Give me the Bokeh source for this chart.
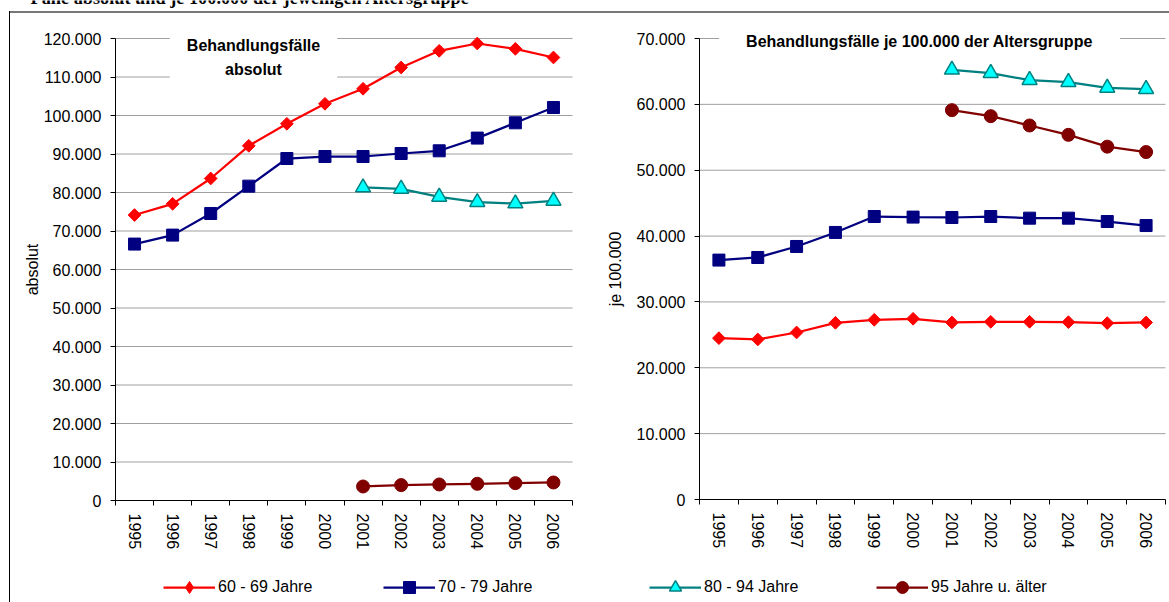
from bokeh.plotting import figure
from bokeh.models import (Range1d, LinearAxis, FixedTicker, CustomJSTickFormatter,
                          Label, Legend, LegendItem)
from bokeh.layouts import row
from bokeh.embed import file_html
from bokeh.resources import INLINE

# ---------------- data ----------------
years = ["1995", "1996", "1997", "1998", "1999", "2000",
         "2001", "2002", "2003", "2004", "2005", "2006"]
years_late = ["2001", "2002", "2003", "2004", "2005", "2006"]

# Behandlungsfälle absolut
abs_60_69 = [74150, 77060, 83640, 92130, 97840, 103040, 106940, 112470, 116800, 118700, 117320, 115070]
abs_70_79 = [66600, 68930, 74550, 81650, 88830, 89350, 89350, 90130, 90830, 94130, 98100, 102080]
abs_80_94 = [81300, 80960, 78880, 77490, 77140, 77840]
abs_95_plus = [3640, 4000, 4160, 4340, 4510, 4680]

# Behandlungsfälle je 100.000 der Altersgruppe
rate_60_69 = [24500, 24300, 25360, 26830, 27290, 27440, 26880, 26980, 26980, 26930, 26780, 26880]
rate_70_79 = [36350, 36750, 38420, 40550, 42970, 42880, 42820, 42970, 42720, 42720, 42210, 41600]
rate_80_94 = [65250, 64740, 63680, 63380, 62510, 62310]
rate_95_plus = [59120, 58210, 56790, 55370, 53580, 52760]

ticks_abs = [0, 10000, 20000, 30000, 40000, 50000, 60000, 70000, 80000, 90000, 100000, 110000, 120000]
ticks_rate = [0, 10000, 20000, 30000, 40000, 50000, 60000, 70000]

series_labels = ["60 - 69 Jahre", "70 - 79 Jahre", "80 - 94 Jahre", "95 Jahre u. älter"]
title_main = "Fälle absolut und je 100.000 der jeweiligen Altersgruppe"
title_left = "Behandlungsfälle\nabsolut"
title_right = "Behandlungsfälle je 100.000 der Altersgruppe"

# category slots on the x axis (one unit per year, centred in its slot)
x_all = [years.index(y) + 0.5 for y in years]
x_late = [years.index(y) + 0.5 for y in years_late]
slot_edges = list(range(len(years) + 1))

FONT = "Liberation Sans"
RED, NAVY, TEAL, CYAN, MAROON = "#FF0000", "#000080", "#008080", "#00FFFF", "#800000"
GRID = "#a0a0a0"
H = 602

fmt = CustomJSTickFormatter(code=r"""
return tick == 0 ? '0' : Math.round(tick).toString().replace(/\B(?=(\d{3})+(?!\d))/g, '.');
""")


def lin(p_lo, v_lo, p_hi, v_hi, p):
    return v_lo + (p - p_lo) * (v_hi - v_lo) / (p_hi - p_lo)


def make_fig(width, ymax, yticks, ax_left, ax_right, ax_top, ax_bottom, ylabel, lab_standoff):
    n = len(years)
    xr = Range1d(lin(ax_left, 0, ax_right, n, 0), lin(ax_left, 0, ax_right, n, width))
    yr = Range1d(lin(ax_bottom, 0, ax_top, ymax, H), lin(ax_bottom, 0, ax_top, ymax, 0))
    p = figure(width=width, height=H, x_range=xr, y_range=yr,
               output_backend="svg", toolbar_location=None, x_axis_type=None, y_axis_type=None,
               min_border_left=0, min_border_right=0, min_border_top=0, min_border_bottom=0)
    p.outline_line_color = None
    p.background_fill_color = None
    p.border_fill_color = None
    p.grid.visible = False

    # horizontal gridlines across the category area
    p.segment(x0=0, x1=n, y0=yticks[1:], y1=yticks[1:], line_color=GRID, line_width=1)

    # x axis line with tick marks between the categories
    ta = LinearAxis(ticker=FixedTicker(ticks=slot_edges, minor_ticks=[]), fixed_location=0,
                    bounds=(0, n), formatter=CustomJSTickFormatter(code="return '';"),
                    major_label_text_font_size="0px", major_tick_out=5, major_tick_in=0,
                    major_label_standoff=0, minor_tick_line_color=None,
                    axis_line_color="black", major_tick_line_color="black")
    # category labels centred in each slot
    la = LinearAxis(ticker=FixedTicker(ticks=x_all, minor_ticks=[]), fixed_location=0,
                    bounds=(0, n),
                    major_label_overrides={x: y for x, y in zip(x_all, years)},
                    axis_line_color=None, major_tick_line_color=None, minor_tick_line_color=None,
                    major_tick_out=0, major_tick_in=0,
                    major_label_orientation="vertical", major_label_standoff=13,
                    major_label_text_font=FONT, major_label_text_font_size="16px",
                    major_label_text_color="black")
    p.add_layout(ta, "below")
    p.add_layout(la, "below")

    ya = LinearAxis(ticker=FixedTicker(ticks=yticks, minor_ticks=[]), fixed_location=0,
                    bounds=(0, ymax), formatter=fmt,
                    major_tick_out=5, major_tick_in=0, minor_tick_line_color=None,
                    axis_line_color="black", major_tick_line_color="black",
                    major_label_standoff=9, major_label_text_font=FONT,
                    major_label_text_font_size="16px", major_label_text_color="black",
                    axis_label=ylabel, axis_label_text_font=FONT,
                    axis_label_text_font_size="16px", axis_label_text_font_style="normal",
                    axis_label_text_color="black", axis_label_standoff=lab_standoff)
    p.add_layout(ya, "left")
    return p


def draw_series(p, x, y, color, marker, size, fill, angle=0.0, mlw=1.0):
    ln = p.line(x, y, line_color=color, line_width=2.25)
    sc = p.scatter(x, y, marker=marker, size=size, angle=angle, fill_color=fill,
                   line_color=color, line_width=mlw)
    return [ln, sc]


def add_legend(p, items, x, label_width):
    lg = Legend(items=items, location=(x, 0),
                orientation="horizontal", padding=0, margin=0, spacing=0, label_standoff=3,
                glyph_width=52, glyph_height=30, label_height=30, label_width=label_width,
                border_line_color=None, background_fill_alpha=0,
                label_text_font=FONT, label_text_font_size="16px", label_text_color="black")
    p.add_layout(lg, "center")


# ---------------- left chart ----------------
p1 = make_fig(600, 120000, ticks_abs, 115, 572, 38, 500, "absolut", 0)
r1 = draw_series(p1, x_all, abs_60_69, RED, "square", 9, RED, angle=0.785398)
r2 = draw_series(p1, x_all, abs_70_79, NAVY, "square", 12, NAVY)
draw_series(p1, x_late, abs_80_94, TEAL, "triangle", 15, CYAN, mlw=1.5)
draw_series(p1, x_late, abs_95_plus, MAROON, "circle", 13, MAROON)
# legend key for the diamond series (legend keys are drawn unrotated, so use a
# zero-size diamond renderer on the same points whose key the legend sizes itself)
diamond_key = p1.scatter(x_all, abs_60_69, marker="diamond", size=0, fill_color=RED,
                         line_color=RED, line_width=1)

p1.add_layout(Label(x=253, y=H - 32, x_units="screen", y_units="screen", text=title_left,
                    text_align="center", text_baseline="top", text_font=FONT,
                    text_font_size="16px", text_font_style="bold", text_color="black",
                    text_line_height=1.45, background_fill_color="white", padding=(17, 4)))
p1.add_layout(Label(x=30, y=H + 2.2, x_units="screen", y_units="screen", text=title_main,
                    text_align="left", text_baseline="alphabetic", text_font="Liberation Serif",
                    text_font_size="18.3px", text_font_style="bold", text_color="black"))

# ---------------- right chart ----------------
p2 = make_fig(569, 70000, ticks_rate, 99, 565, 38, 499, "je 100.000", 10)
draw_series(p2, x_all, rate_60_69, RED, "square", 9, RED, angle=0.785398)
draw_series(p2, x_all, rate_70_79, NAVY, "square", 12, NAVY)
r5 = draw_series(p2, x_late, rate_80_94, TEAL, "triangle", 15, CYAN, mlw=1.5)
r6 = draw_series(p2, x_late, rate_95_plus, MAROON, "circle", 13, MAROON)

p2.add_layout(Label(x=319, y=H - 40.5, x_units="screen", y_units="screen", text=title_right,
                    text_align="center", text_baseline="middle", text_font=FONT,
                    text_font_size="16px", text_font_style="bold", text_color="black",
                    background_fill_color="white", padding=(27, 7)))

# ---------------- legends ----------------
add_legend(p1, [LegendItem(label=series_labels[0], renderers=[r1[0], diamond_key]),
                LegendItem(label=series_labels[1], renderers=r2)], 163, 165)
add_legend(p2, [LegendItem(label=series_labels[2], renderers=r5),
                LegendItem(label=series_labels[3], renderers=r6)], 49, 172)

# chart-area frame (left and top edge) drawn as the row's CSS background
frame_css = {
    "background-image": "linear-gradient(#000000, #000000), linear-gradient(#777777, #777777)",
    "background-size": "1px 591px, 1160px 2px",
    "background-position": "9px 11px, 9px 11px",
    "background-repeat": "no-repeat",
}
layout = row(p1, p2, styles=frame_css)

open("out.html", "w").write(file_html(layout, INLINE))
